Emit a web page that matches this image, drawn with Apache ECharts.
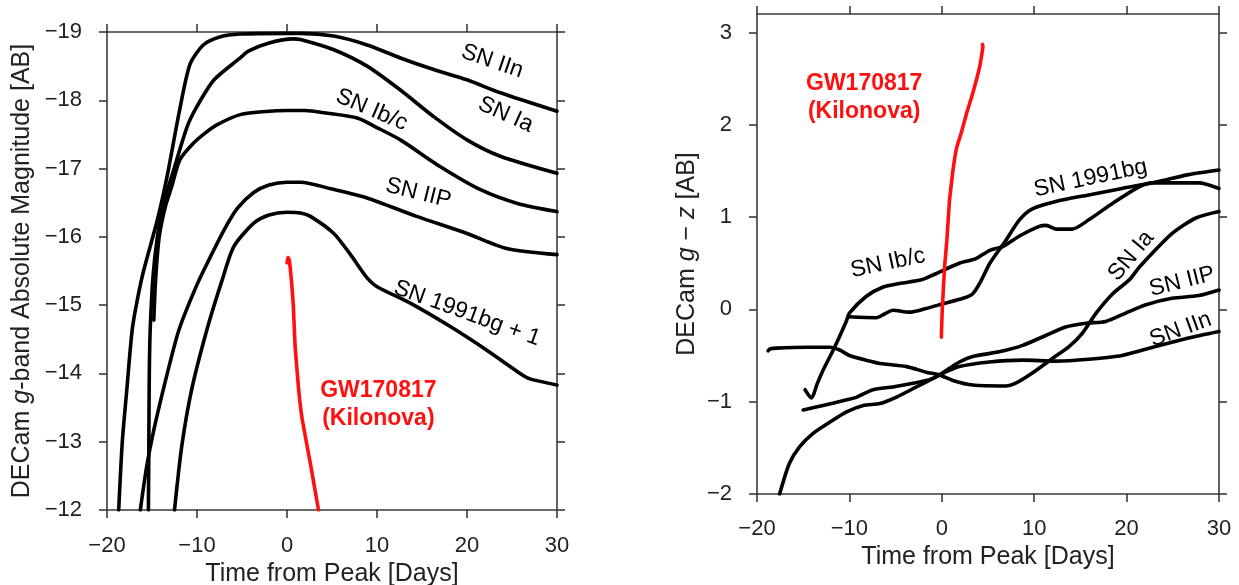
<!DOCTYPE html>
<html>
<head>
<meta charset="utf-8">
<script src="https://cdn.jsdelivr.net/npm/echarts@6/dist/echarts.min.js"></script>
<style>
html,body{margin:0;padding:0;background:#fff;}
#chart{width:1239px;height:585px;}
</style>
</head>
<body>
<div id="chart"></div>
<script>
// ---------- DATA ----------
const xTicks = [-20, -10, 0, 10, 20, 30];
const magTicks = [-19, -18, -17, -16, -15, -14, -13, -12];
const colorTicks = [-2, -1, 0, 1, 2, 3];

// Left panel: g-band absolute magnitude [day, mag]
const magIIn = [[-18.7,-12],[-18.3,-13.0],[-17.8,-13.76],[-17.2,-14.64],[-16.6,-15.1],[-15.9,-15.52],[-14.4,-16.25],[-13.3,-16.9],[-12.0,-17.81],[-10.8,-18.52],[-9.3,-18.81],[-7.4,-18.93],[-5.2,-18.97],[0,-18.98],[1.5,-18.98],[5.2,-18.94],[8.9,-18.81],[12.6,-18.62],[16.3,-18.45],[20,-18.3],[23.7,-18.11],[30,-17.84]];
const magIa = [[-15.4,-12],[-15.35,-13.0],[-15.3,-14.0],[-15.2,-14.64],[-14.9,-15.4],[-14.4,-16.0],[-13.7,-16.5],[-12.8,-16.89],[-11.1,-17.61],[-10,-17.91],[-8.1,-18.3],[-5.2,-18.62],[-4.3,-18.72],[-2,-18.84],[0.7,-18.9],[1.5,-18.89],[5.2,-18.74],[8.9,-18.5],[12.6,-18.15],[16.3,-17.76],[20,-17.42],[23.7,-17.18],[30,-16.93]];
const magIbc = [[-14.8,-14.78],[-14.6,-15.37],[-14.2,-16.0],[-13.5,-16.45],[-12.8,-16.74],[-11.9,-17.13],[-10.4,-17.37],[-9,-17.53],[-7.8,-17.64],[-5.2,-17.79],[-2,-17.84],[0,-17.85],[2,-17.85],[4.5,-17.81],[7.8,-17.74],[10,-17.6],[12.6,-17.42],[17,-17.03],[21.5,-16.69],[25.6,-16.49],[30,-16.37]];
const magIIP = [[-16.3,-12],[-15.6,-12.63],[-14.8,-13.17],[-13.3,-14.0],[-12,-14.64],[-10,-15.3],[-8.5,-15.71],[-7,-16.1],[-5.5,-16.42],[-3.7,-16.65],[-2,-16.76],[0,-16.8],[1.5,-16.8],[5,-16.7],[8.9,-16.57],[14.4,-16.3],[20,-16.05],[24.4,-15.83],[30,-15.74]];
const mag91bg = [[-12.5,-12],[-11.7,-12.93],[-10.6,-13.76],[-8.9,-14.64],[-7.2,-15.37],[-5.9,-15.86],[-3.7,-16.2],[-2,-16.32],[0,-16.36],[1.5,-16.35],[2.6,-16.3],[5.2,-16.05],[7,-15.75],[8.9,-15.4],[10,-15.27],[13.7,-15.03],[18.1,-14.69],[22.2,-14.34],[25.9,-14.0],[27,-13.92],[30,-13.83]];
const magKN = [[0.0,-15.62],[0.1,-15.7],[0.25,-15.66],[0.5,-15.35],[0.7,-15.0],[0.9,-14.4],[1.3,-13.76],[1.7,-13.32],[2.6,-12.68],[3.5,-12]];

// Right panel: g - z colour [day, mag]
const colIbc = [[-14.8,-0.87],[-14.1,-0.96],[-13.5,-0.81],[-12.85,-0.66],[-11.6,-0.41],[-10.3,-0.12],[-10,-0.04],[-8.2,0.14],[-6.4,0.24],[-4.6,0.28],[-2.2,0.32],[-1.0,0.37],[0.5,0.44],[1.9,0.5],[3.7,0.55],[5.2,0.64],[6.6,0.68],[8.5,0.8],[10.55,0.9],[11.3,0.91],[12.35,0.87],[14.1,0.87],[15.9,0.97],[18.5,1.15],[21.4,1.33],[22.8,1.37],[24.9,1.37],[27.8,1.37],[30,1.31]];
const col91bg = [[-10.1,-0.08],[-7.1,-0.09],[-6.2,-0.05],[-5.3,-0.01],[-3.5,-0.03],[-1.7,0.01],[0.1,0.06],[2.3,0.12],[3.35,0.17],[4.2,0.3],[5.2,0.5],[6.95,0.75],[8.4,0.97],[9.8,1.09],[12.35,1.17],[15.9,1.24],[19.5,1.31],[23.2,1.38],[26.7,1.46],[30,1.51]];
const colIa = [[-18.8,-0.45],[-18.6,-0.43],[-17.9,-0.42],[-14.6,-0.41],[-12.1,-0.41],[-11.05,-0.44],[-10,-0.5],[-8.2,-0.55],[-6.4,-0.59],[-3.8,-0.62],[-1.7,-0.68],[-0.25,-0.71],[1.2,-0.77],[3.35,-0.82],[6.95,-0.83],[8.0,-0.8],[9.8,-0.69],[12,-0.53],[13.8,-0.4],[15.2,-0.26],[16.7,-0.04],[18.5,0.17],[20.3,0.32],[21.4,0.46],[24.9,0.82],[27.5,0.99],[30,1.06]];
const colIIn = [[-15,-1.09],[-12.85,-1.04],[-10.3,-0.98],[-9.2,-0.95],[-7.45,-0.87],[-5.3,-0.84],[-3.1,-0.8],[-1.0,-0.75],[-0.25,-0.71],[1.9,-0.62],[5.15,-0.57],[8.75,-0.55],[12.35,-0.56],[15.9,-0.54],[19.5,-0.5],[23.2,-0.4],[26.7,-0.31],[30,-0.24]];
const colIIP = [[-17.55,-2],[-16.5,-1.67],[-15.4,-1.49],[-13.9,-1.34],[-12.1,-1.22],[-10.3,-1.11],[-8.5,-1.04],[-6.7,-1.02],[-4.9,-0.95],[-2.75,-0.84],[-1,-0.75],[-0.25,-0.71],[1.9,-0.57],[3.35,-0.51],[6.2,-0.46],[8.75,-0.39],[11.3,-0.28],[13.4,-0.19],[15.6,-0.15],[17.75,-0.13],[19.9,-0.04],[22.1,0.05],[24.9,0.12],[27.8,0.15],[30,0.21]];
const colKN = [[-0.05,-0.3],[0.05,0.0],[0.3,0.46],[0.55,0.75],[0.83,1.18],[1.2,1.5],[1.6,1.75],[2.1,1.91],[2.7,2.13],[3.35,2.34],[4.1,2.63],[4.45,2.85],[4.4,2.87]];

// Annotation texts and anchors [text, day, value]
const leftNotes = [['SN IIn',22.8,-18.57],['SN Ia',24.3,-17.79],['SN Ib/c',9.4,-17.86],['SN IIP',14.6,-16.64],['SN 1991bg + 1',20,-14.88]];
const rightNotes = [['SN Ib/c',-5.83,0.5],['SN 1991bg',16.1,1.42],['SN Ia',20.5,0.58],['SN IIP',26.0,0.3],['SN IIn',25.85,-0.22]];
const leftNoteAngles = [-19,-24,-23,-14,-20];
const rightNoteAngles = [12,12,50,14,20];
const knNoteText = 'GW170817\n(Kilonova)';
const knNoteLeft = [10.15,-13.55];
const knNoteRight = [-8.4,2.295];

// ---------- STYLE / OPTION ----------
const FONT = "'Liberation Sans', Arial, Helvetica, sans-serif";
const AX = '#3a3a3a';
const RED = '#ff1010';
const fmt = v => String(v).replace('-', '\u2212');
const axisLine = {show:true, onZero:false, lineStyle:{color:AX, width:1.6}};
const axisTick = {show:true, inside:false, length:8, lineStyle:{color:AX, width:1.6}};
const lab = (margin) => ({show:true, margin:margin, color:'#222', fontSize:22, fontFamily:FONT, formatter:fmt});
const nameStyle = {color:'#222', fontSize:25, fontFamily:FONT, rich:{i:{fontStyle:'italic', color:'#222', fontSize:25, fontFamily:FONT}}};

function xAx(grid, bottom, margin, gap) {
  return {
    type:'value', gridIndex:grid, position: bottom ? 'bottom' : 'top',
    min:-20, max:30, interval:10,
    axisLine, axisTick, splitLine:{show:false},
    axisLabel: bottom ? lab(margin) : {show:false},
    name: bottom ? 'Time from Peak [Days]' : '', nameLocation:'middle', nameGap:gap,
    nameTextStyle: nameStyle
  };
}

function line(data, xi, yi, color) {
  return {type:'line', xAxisIndex:xi, yAxisIndex:yi, data:data, showSymbol:false, symbol:'none',
    smooth: color === '#000' ? 0.25 : 0.1, silent:true,
    lineStyle:{color:color, width:3.6, cap:'round', join:'round'}, z:3};
}

function notes(list, angles, xi, yi) {
  return {type:'scatter', xAxisIndex:xi, yAxisIndex:yi, symbolSize:0, silent:true, z:5,
    itemStyle:{opacity:1},
    data: list.map((n, i) => ({name:n[0], value:[n[1], n[2]], label:{rotate:angles[i]}})),
    label:{show:true, position:'inside', formatter:'{b}', color:'#000', fontSize:23, fontFamily:FONT,
      align:'center', verticalAlign:'middle'}};
}

function knNote(pos, xi, yi) {
  return {type:'scatter', xAxisIndex:xi, yAxisIndex:yi, symbolSize:0, silent:true, z:5,
    itemStyle:{opacity:1},
    data:[{name:knNoteText, value:pos}],
    label:{show:true, position:'inside', formatter:'{b}', color:RED, fontSize:23, fontWeight:'bold',
      fontFamily:FONT, align:'center', verticalAlign:'middle', lineHeight:28}};
}

const option = {
  animation:false,
  backgroundColor:'#fff',
  grid:[
    {left:107, top:32, width:450, height:478, outerBoundsMode:'none', containLabel:false},
    {left:757, top:14, width:462, height:480, outerBoundsMode:'none', containLabel:false}
  ],
  xAxis:[
    xAx(0, true, 25, 49), xAx(0, false),
    xAx(1, true, 24, 51), xAx(1, false)
  ],
  yAxis:[
    {type:'value', gridIndex:0, position:'left', min:-19, max:-12, interval:1, inverse:true,
     axisLine, axisTick, splitLine:{show:false}, axisLabel:lab(25),
     name:'DECam {i|g}-band Absolute Magnitude [AB]', nameLocation:'middle', nameGap:72, nameTextStyle:nameStyle},
    {type:'value', gridIndex:0, position:'right', min:-19, max:-12, interval:1, inverse:true,
     axisLine, axisTick, splitLine:{show:false}, axisLabel:{show:false}},
    {type:'value', gridIndex:1, position:'left', min:-2, max:3.2, interval:1,
     axisLine, axisTick:Object.assign({customValues:colorTicks}, axisTick), splitLine:{show:false},
     axisLabel:Object.assign({customValues:colorTicks}, lab(25)),
     name:'DECam {i|g} \u2212 {i|z} [AB]', nameLocation:'middle', nameGap:57, nameTextStyle:nameStyle},
    {type:'value', gridIndex:1, position:'right', min:-2, max:3.2, interval:1,
     axisLine, axisTick:Object.assign({customValues:colorTicks}, axisTick), splitLine:{show:false},
     axisLabel:{show:false}}
  ],
  series:[
    line(magIIn,0,0,'#000'), line(magIa,0,0,'#000'), line(magIbc,0,0,'#000'),
    line(magIIP,0,0,'#000'), line(mag91bg,0,0,'#000'), line(magKN,0,0,RED),
    line(colIbc,2,2,'#000'), line(col91bg,2,2,'#000'), line(colIa,2,2,'#000'),
    line(colIIn,2,2,'#000'), line(colIIP,2,2,'#000'), line(colKN,2,2,RED),
    notes(leftNotes, leftNoteAngles, 0, 0), notes(rightNotes, rightNoteAngles, 2, 2),
    knNote(knNoteLeft, 0, 0), knNote(knNoteRight, 2, 2)
  ]
};

const chart = echarts.init(document.getElementById('chart'), null, {renderer:'canvas'});
chart.setOption(option);
</script>
</body>
</html>
